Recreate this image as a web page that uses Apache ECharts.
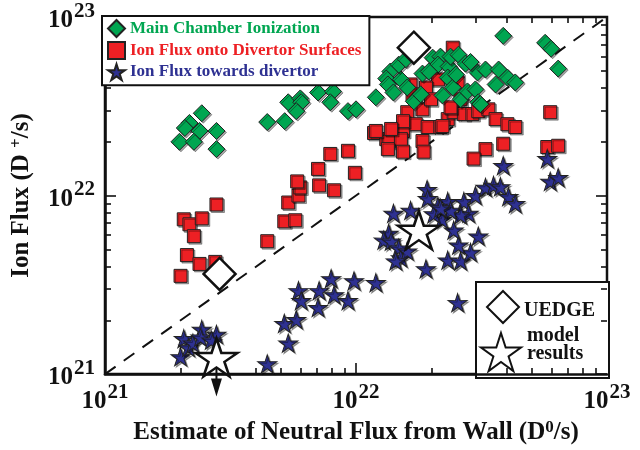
<!DOCTYPE html>
<html><head><meta charset="utf-8">
<script src="https://cdn.jsdelivr.net/npm/echarts@6/dist/echarts.min.js"></script>
<style>html,body{margin:0;padding:0;background:#fff}#c{width:640px;height:450px}</style>
</head><body><div id="c"></div>
<script>
// ---- data (x: neutral flux D0/s, y: ion flux D+/s) ----
const mainChamber = [
[2.43e21,2.89e22],[2.17e21,2.55e22],[2.08e21,2.39e22],[2.38e21,2.30e22],[2.78e21,2.30e22],[1.98e21,2.0e22],[2.26e21,2.0e22],[2.78e21,1.82e22],
[4.43e21,2.58e22],[5.2e21,2.61e22],[5.37e21,3.33e22],[6.0e21,3.50e22],[6.05e21,3.33e22],[5.78e21,2.97e22],[7.06e21,3.78e22],[8.1e21,3.83e22],[7.9e21,3.33e22],[9.29e21,2.97e22],[1.0e22,3.04e22],
[1.2e22,3.55e22],[1.37e22,4.95e22],[1.32e22,4.52e22],[1.34e22,4.19e22],[1.41e22,3.78e22],[1.51e22,4.47e22],[1.48e22,5.41e22],[1.70e22,3.37e22],[1.81e22,3.69e22],[1.84e22,4.82e22],[2.02e22,5.92e22],[2.17e22,6.0e22],[2.12e22,5.41e22],[2.34e22,5.28e22],[2.38e22,6.0e22],[2.56e22,6.15e22],[2.73e22,5.48e22],[2.32e22,4.58e22],[2.43e22,4.03e22],[2.21e22,3.64e22],[2.61e22,3.46e22],[2.78e22,3.83e22],[2.99e22,3.93e22],[3.07e22,3.33e22],[3.05e22,4.89e22],[3.28e22,5.08e22],[3.7e22,5.08e22],[4.01e22,4.58e22],[4.31e22,4.30e22],[3.60e22,4.19e22],[3.13e22,3.25e22],[3.86e22,7.84e22],[5.67e22,7.17e22],[5.99e22,6.64e22],[6.39e22,5.14e22],
[1.58e22,5.8e22],[1.95e22,4.95e22],[2.5e22,4.76e22],[2.86e22,5.6e22],[1.6e22,4.03e22]
];
const divertorSurfaces = [
[2.06e21,7.36e21],[2.17e21,6.90e21],[2.43e21,7.45e21],[2.78e21,8.91e21],[2.26e21,5.92e21],[2.12e21,4.64e21],[2.38e21,4.14e21],[2.75e21,4.25e21],[2.0e21,3.55e21],
[4.43e21,5.55e21],[5.18e21,7.17e21],[5.73e21,7.27e21],[5.37e21,9.14e21],[5.9e21,1.0e22],[6.0e21,1.11e22],[5.83e21,1.20e22],[7.06e21,1.41e22],[7.13e21,1.14e22],[8.18e21,1.07e22],[7.9e21,1.71e22],[9.29e21,1.78e22],[9.9e21,1.34e22],
[1.18e22,2.24e22],[1.32e22,2.07e22],[1.40e22,2.30e22],[1.54e22,2.30e22],[1.35e22,2.0e22],[1.51e22,2.07e22],[1.34e22,1.82e22],[1.54e22,1.76e22],[1.60e22,2.93e22],[1.84e22,3.04e22],[1.73e22,2.51e22],[1.93e22,2.42e22],[1.84e22,2.02e22],[1.86e22,1.76e22],[2.17e22,2.42e22],[2.32e22,2.68e22],[2.45e22,2.93e22],[2.69e22,2.86e22],[2.91e22,2.86e22],[3.07e22,2.97e22],[3.37e22,3.04e22],[3.60e22,2.68e22],[4.01e22,2.51e22],[4.31e22,2.42e22],[5.94e22,2.93e22],[3.28e22,1.82e22],[3.86e22,1.95e22],[5.78e22,1.87e22],[6.39e22,1.90e22],[2.94e22,1.61e22],[2.43e22,6.73e22],[2.12e22,4.47e22],[2.54e22,4.30e22],[1.65e22,4.19e22],[1.90e22,4.03e22],[2.61e22,3.46e22],[2.38e22,3.12e22],[1.54e22,2.61e22],[1.2e22,2.30e22],[1.38e22,2.36e22],[2.21e22,2.45e22],[1.99e22,3.46e22],[1.68e22,3.69e22]
];
const towardsDivertor = [
[2.0e21,1.25e21],[2.06e21,1.58e21],[2.15e21,1.41e21],[2.24e21,1.49e21],[2.43e21,1.78e21],[2.4e21,1.61e21],[2.78e21,1.67e21],[2.65e21,1.55e21],
[4.43e21,1.14e21],[5.37e21,1.49e21],[5.18e21,1.92e21],[5.78e21,2.02e21],[5.9e21,2.93e21],[6.05e21,2.58e21],[7.06e21,2.36e21],[7.13e21,2.93e21],[7.96e21,3.42e21],[8.18e21,2.78e21],[9.29e21,2.58e21],[9.82e21,3.33e21],[1.2e22,3.25e21],[2.54e22,2.51e21],
[1.92e22,1.08e22],[1.93e22,9.62e21],[3.86e22,1.47e22],[1.41e22,7.94e21],[1.65e22,8.25e21],[1.35e22,6.15e21],[1.29e22,5.62e21],[1.38e22,5.55e21],[1.48e22,5.08e21],[1.51e22,4.47e21],[1.60e22,4.89e21],[1.44e22,4.30e21],[1.90e22,3.88e21],[2.32e22,4.35e21],[2.61e22,4.30e21],[2.86e22,4.8e21],[2.56e22,5.28e21],[3.07e22,5.92e21],[2.45e22,6.40e21],[2.2e22,7.36e21],[2.32e22,9.26e21],[2.69e22,9.26e21],[2.81e22,7.94e21],[2.61e22,7.8e21],[2.38e22,8.25e21],[2.99e22,1.0e22],[3.28e22,1.11e22],[3.53e22,1.14e22],[3.76e22,1.12e22],[4.05e22,9.87e21],[4.31e22,9.0e21],[2.12e22,8.7e21],[5.78e22,1.61e22],[5.94e22,1.20e22],[6.39e22,1.26e22],[2.04e22,7.9e21],[2.17e22,8.5e21]
];
const uedgeDiamond = [[2.86e21,3.64e21],[1.70e22,6.73e22]];
const uedgeStar = [[2.78e21,1.24e21],[1.78e22,6.40e21]];
const uedgeArrow = [[2.78e21,9.1e20]];
const oneToOne = [[1e21,1e21],[1e23,1e23]];
const majorTicks = [1e21,1e22,1e23];
const minorTicks = [2e21,3e21,4e21,5e21,6e21,7e21,8e21,9e21,2e22,3e22,4e22,5e22,6e22,7e22,8e22,9e22];
const seriesNames = ['Main Chamber Ionization','Ion Flux onto Divertor Surfaces','Ion Flux towards divertor'];

const FONT = '"Liberation Serif", "Times New Roman", serif';
const GREEN = '#00a651', RED = '#ed2024', BLUE = '#2e3192';
const STAR = 'path://M50 0 L61.17 34.63 L97.55 34.55 L68.07 55.87 L79.39 90.45 L50 69 L20.61 90.45 L31.93 55.87 L2.45 34.55 L38.83 34.63 Z';
const ARROW = 'path://M4.5 0 L6.5 0 L6.5 12 L11 12 L5.5 30 L0 12 L4.5 12 Z';
const mk = (color) => ({color: color, borderColor: '#222', borderWidth: 1, opacity: 1,
  shadowColor: 'rgba(0,0,0,0.35)', shadowOffsetX: 1.5, shadowOffsetY: 1.5, shadowBlur: 0});

const expLabel = v => '{b|10}{s|' + Math.round(Math.log10(v)) + '}';
const labelRich = {
  b: {fontFamily: FONT, fontWeight: 'bold', fontSize: 25, color: '#111', verticalAlign: 'bottom'},
  s: {fontFamily: FONT, fontWeight: 'bold', fontSize: 21, color: '#111', verticalAlign: 'bottom', padding: [0,0,11,1]}
};
const nameRich = {s: {fontFamily: FONT, fontWeight: 'bold', fontSize: 17, color: '#111', verticalAlign: 'bottom', padding: [0,0,10,0]}};

// extra axes that only carry inside tick marks (all four sides, major + minor)
function tickAxis(position, values, len) {
  return {
    type: 'log', logBase: 10, min: 1e21, max: 1e23, position: position,
    axisLine: {show: false}, splitLine: {show: false}, axisLabel: {show: false},
    axisTick: {show: true, inside: true, length: len, customValues: values, lineStyle: {color: '#111', width: 1.6}}
  };
}

const chart = echarts.init(document.getElementById('c'), null, {renderer: 'canvas'});
chart.setOption({
  animation: false,
  backgroundColor: '#fff',
  grid: {left: 103, right: 33, top: 17, bottom: 73, show: true, borderColor: '#111', borderWidth: 2.5, backgroundColor: 'transparent'},
  xAxis: [{
    type: 'log', logBase: 10, min: 1e21, max: 1e23, position: 'bottom',
    axisLine: {lineStyle: {color: '#111', width: 2.5}},
    axisTick: {show: true, inside: true, length: 11, customValues: majorTicks, lineStyle: {color: '#111', width: 1.6}},
    splitLine: {show: false},
    axisLabel: {margin: 8, formatter: expLabel, rich: labelRich},
    name: 'Estimate of Neutral Flux from Wall (D{s|0}/s)', nameLocation: 'middle', nameGap: 38,
    nameTextStyle: {fontFamily: FONT, fontWeight: 'bold', fontSize: 25, color: '#111', rich: nameRich}
  },
    tickAxis('bottom', minorTicks, 6), tickAxis('top', minorTicks, 6), tickAxis('top', majorTicks, 11)
  ],
  yAxis: [{
    type: 'log', logBase: 10, min: 1e21, max: 1e23, position: 'left',
    axisLine: {lineStyle: {color: '#111', width: 2.5}},
    axisTick: {show: true, inside: true, length: 11, customValues: majorTicks, lineStyle: {color: '#111', width: 1.6}},
    splitLine: {show: false},
    axisLabel: {margin: 10, formatter: expLabel, rich: labelRich},
    name: 'Ion Flux (D {s|+}/s)', nameLocation: 'middle', nameGap: 70,
    nameTextStyle: {fontFamily: FONT, fontWeight: 'bold', fontSize: 25, color: '#111', rich: nameRich}
  },
    tickAxis('left', minorTicks, 6), tickAxis('right', minorTicks, 6), tickAxis('right', majorTicks, 11)
  ],
  legend: [{
    data: [
      {name: seriesNames[0], textStyle: {color: GREEN}},
      {name: seriesNames[1], textStyle: {color: RED}},
      {name: seriesNames[2], textStyle: {color: BLUE}}
    ],
    orient: 'vertical', left: 102, top: 16, padding: [3, 8, 4, 5], itemGap: 3,
    itemWidth: 17, itemHeight: 17, borderColor: '#111', borderWidth: 2, backgroundColor: '#fff',
    textStyle: {fontFamily: FONT, fontWeight: 'bold', fontSize: 17}, selectedMode: false
  }, {
    data: ['UEDGE'],
    orient: 'vertical', left: 486, top: 290, padding: 0, itemWidth: 32, itemHeight: 32,
    formatter: () => '{e|}\n{a|UEDGE}',
    textStyle: {rich: {e: {lineHeight: 8}, a: {fontFamily: FONT, fontWeight: 'bold', fontSize: 20, lineHeight: 20, color: '#111'}}},
    selectedMode: false
  }, {
    data: ['model results'],
    orient: 'vertical', left: 480, top: 326, padding: 0, itemWidth: 42, itemHeight: 38,
    formatter: () => '{a|model}\n{a|results}\n{e|}',
    textStyle: {rich: {e: {lineHeight: 14}, a: {fontFamily: FONT, fontWeight: 'bold', fontSize: 20, lineHeight: 18, color: '#111'}}},
    selectedMode: false
  }],
  graphic: [{
    type: 'rect', left: 475, top: 281, shape: {width: 133, height: 96}, z: 0,
    style: {fill: '#fff', stroke: '#111', lineWidth: 2}
  }],
  series: [
    {type: 'line', data: oneToOne, symbol: 'none', silent: true, z: 1,
      lineStyle: {color: '#111', width: 2, type: [13, 10]}},
    {name: seriesNames[1], type: 'scatter', data: divertorSurfaces, symbol: 'rect', symbolSize: 13, z: 2, itemStyle: mk(RED)},
    {name: seriesNames[0], type: 'scatter', data: mainChamber, symbol: 'diamond', symbolSize: 17, z: 3, itemStyle: mk(GREEN)},
    {name: seriesNames[2], type: 'scatter', data: towardsDivertor, symbol: STAR, symbolSize: [19, 18], z: 4, itemStyle: mk(BLUE)},
    {name: 'UEDGE', type: 'scatter', data: uedgeDiamond, symbol: 'diamond', symbolSize: 32, z: 5, clip: false,
      itemStyle: {color: '#fff', borderColor: '#111', borderWidth: 2.5, opacity: 1}},
    {name: 'model results', type: 'scatter', data: uedgeStar, symbol: STAR, symbolSize: [42, 38], z: 5, clip: false,
      itemStyle: {color: '#fff', borderColor: '#111', borderWidth: 2.5, opacity: 1}},
    {name: 'arrow', type: 'scatter', data: uedgeArrow, symbol: ARROW, symbolSize: [11, 30], z: 4, clip: false,
      itemStyle: {color: '#111', opacity: 1}}
  ]
});
</script></body></html>
